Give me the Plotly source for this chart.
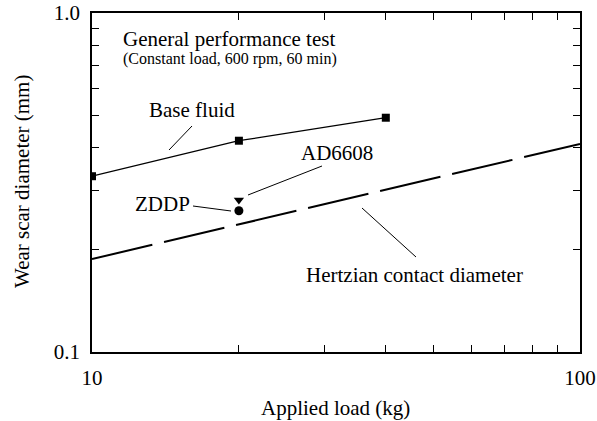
import plotly.graph_objects as go

load_base = [10, 20, 40]
wsd_base = [0.330, 0.420, 0.491]
load_ad = [20]
wsd_ad = [0.281]
load_zddp = [20]
wsd_zddp = [0.261]
load_hertz = [10, 100]
wsd_hertz = [0.188, 0.411]

x_ticks = [10, 20, 30, 40, 50, 60, 70, 80, 90, 100]
x_labels = ["10", "", "", "", "", "", "", "", "", "100"]
y_ticks = [0.1, 0.2, 0.3, 0.4, 0.5, 0.6, 0.7, 0.8, 0.9, 1.0]
y_labels = ["0.1", "", "", "", "", "", "", "", "", "1.0"]

FONT = "Liberation Serif, Times New Roman, serif"

fig = go.Figure()
fig.add_trace(go.Scatter(x=load_hertz, y=wsd_hertz, mode="lines",
                         line=dict(color="black", width=2, dash="62px,12px"),
                         showlegend=False))
fig.add_trace(go.Scatter(x=load_base, y=wsd_base, mode="lines+markers",
                         line=dict(color="black", width=1.3),
                         marker=dict(symbol="square", size=8, color="black"),
                         showlegend=False))
fig.add_trace(go.Scatter(x=load_ad, y=wsd_ad, mode="markers",
                         marker=dict(symbol="triangle-down", size=9, color="black"),
                         showlegend=False))
fig.add_trace(go.Scatter(x=load_zddp, y=wsd_zddp, mode="markers",
                         marker=dict(symbol="circle", size=9, color="black"),
                         showlegend=False))

L, R, T, B = 92, 580, 13, 352
W, H = 597, 421


def px(x):
    return (x - L) / (R - L)


def py(y):
    return (B - y) / (B - T)


leaders = [((192, 126), (169, 150)),
           ((322, 166), (248, 195)),
           ((193, 206), (231, 211)),
           ((362, 208), (416, 257))]
shapes = []
for (x0, y0), (x1, y1) in leaders:
    shapes.append(dict(type="line", xref="paper", yref="paper",
                       x0=px(x0), y0=py(y0), x1=px(x1), y1=py(y1),
                       line=dict(color="black", width=1)))

texts = [("General performance test", 121, 39, 21),
         ("(Constant load, 600 rpm, 60 min)", 121, 59, 16),
         ("Base fluid", 147, 110, 21),
         ("AD6608", 299, 153, 21),
         ("ZDDP", 133, 204, 21),
         ("Hertzian contact diameter", 304, 275, 21)]
annotations = []
for t, x, y, s in texts:
    annotations.append(dict(text=t, xref="paper", yref="paper", x=px(x), y=py(y),
                            xanchor="left", yanchor="middle", showarrow=False,
                            font=dict(family=FONT, size=s, color="black")))

annotations.append(dict(text="Applied load (kg)", xref="paper", yref="paper",
                        x=px(335), y=py(408), xanchor="center", yanchor="middle",
                        showarrow=False, font=dict(family=FONT, size=21, color="black")))
annotations.append(dict(text="Wear scar diameter (mm)", xref="paper", yref="paper",
                        x=px(22), y=py(182), xanchor="center", yanchor="middle",
                        textangle=-90, showarrow=False,
                        font=dict(family=FONT, size=21, color="black")))

axis_common = dict(type="log", showgrid=False, zeroline=False, showline=True,
                   linecolor="black", linewidth=1.5, mirror="ticks",
                   ticks="inside", ticklen=7, tickwidth=1, tickcolor="black",
                   automargin=False, ticklabelstandoff=6,
                   tickfont=dict(family=FONT, size=21, color="black"))

fig.update_layout(
    width=W, height=H,
    margin=dict(l=L, r=W - R, t=T, b=H - B),
    paper_bgcolor="white", plot_bgcolor="white",
    xaxis=dict(range=[1, 2], tickvals=x_ticks, ticktext=x_labels, **axis_common),
    yaxis=dict(range=[-1, 0], tickvals=y_ticks, ticktext=y_labels, **axis_common),
    shapes=shapes, annotations=annotations,
)

fig.write_html("out.html")
